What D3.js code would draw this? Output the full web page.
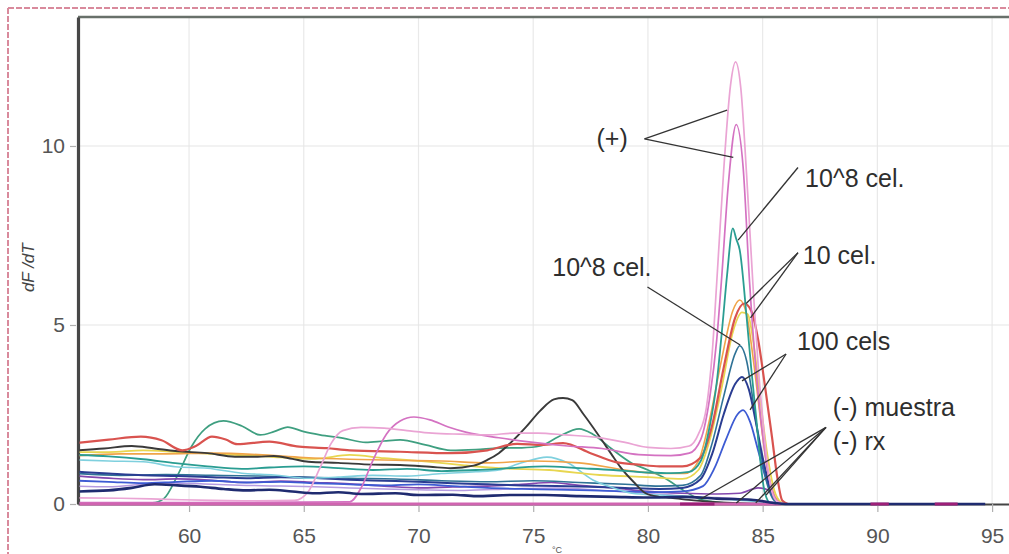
<!DOCTYPE html>
<html>
<head>
<meta charset="utf-8">
<script src="https://cdn.jsdelivr.net/npm/d3@7"></script>
<style>
  html, body { margin: 0; padding: 0; background: #fff; }
  svg { display: block; font-family: "Liberation Sans", Arial, sans-serif; }
</style>
</head>
<body>
<svg id="chart" width="1009" height="554"></svg>
<script>
// Melt curves: derivative of fluorescence (dF/dT) against temperature (°C).
// Each series is a list of [temperature, dF/dT] readings.

const xTicks = [60, 65, 70, 75, 80, 85, 90, 95];
const yTicks = [0, 5, 10];

// Positive controls (+)
const pinkTall = [[55.16,0.17],[57,0.16],[59,0.13],[61,0.1],[63,0.09],[64.6,0.1],[65.2,0.35],[65.7,1.0],[66.2,1.7],[66.7,2.05],[67.5,2.14],[68.5,2.12],[69.5,2.05],[70.6,1.98],[71.8,1.95],[73,1.93],[74.2,1.98],[75.2,1.98],[76.4,1.93],[77.8,1.86],[79,1.72],[80,1.58],[81,1.55],[81.8,1.62],[82.2,1.95],[82.55,2.7],[82.8,4.2],[83.0,6.2],[83.3,9.3],[83.6,11.7],[83.82,12.35],[84.05,11.6],[84.3,9.2],[84.57,6.2],[84.8,3.9],[85.0,2.4],[85.2,1.15],[85.4,0.35],[85.65,0.06],[86,0]];
const magentaPeak = [[55.16,0.04],[60,0.04],[64,0.05],[67,0.06],[67.5,0.45],[68,1.2],[68.6,1.95],[69.2,2.32],[69.8,2.43],[70.5,2.35],[71.3,2.15],[72.1,2.0],[73.5,1.85],[75,1.72],[76.5,1.62],[78,1.55],[79.6,1.38],[81,1.35],[81.8,1.42],[82.3,1.8],[82.7,3.0],[83.0,4.6],[83.2,6.2],[83.5,8.9],[83.85,10.6],[84.15,9.4],[84.43,6.2],[84.7,3.8],[84.95,2.2],[85.2,1.0],[85.45,0.3],[85.7,0.05],[86,0]];

// Dilution series
const tealPeak = [[55.16,1.37],[56.5,1.33],[58,1.25],[59.4,1.14],[60.8,1.05],[62.3,0.98],[63.5,1.02],[65,1.05],[66.5,1.0],[68,0.95],[69.5,0.98],[71,0.92],[72.5,0.95],[74,1.0],[75.5,1.05],[77,1.0],[78.5,0.95],[80,0.88],[81,0.86],[81.8,0.9],[82.3,1.2],[82.7,2.2],[83.0,3.4],[83.25,5.0],[83.45,6.4],[83.7,7.7],[83.85,7.4],[84.0,7.1],[84.3,5.23],[84.5,3.8],[84.72,2.4],[84.9,1.2],[85.1,0.3],[85.35,0.02],[86,0]];
const redPeak = [[55.16,1.71],[56.5,1.8],[57.9,1.88],[58.8,1.78],[59.7,1.5],[60.3,1.62],[61,1.88],[61.6,1.8],[62.1,1.67],[63.5,1.74],[64.8,1.6],[66,1.56],[67,1.5],[69.2,1.46],[71.4,1.42],[73,1.5],[74.3,1.68],[75.4,1.65],[76.3,1.7],[77.5,1.42],[78.6,1.17],[79.6,1.1],[80.5,1.05],[81.5,1.05],[82.3,1.3],[82.8,2.2],[83.3,3.8],[83.8,5.2],[84.2,5.6],[84.5,5.4],[84.8,4.6],[85.1,3.3],[85.4,1.9],[85.65,0.7],[85.85,0.1],[86.1,0]];
const orangePeak = [[55.16,1.35],[57,1.4],[59,1.4],[61,1.42],[63,1.38],[65,1.3],[67,1.25],[69,1.22],[71,1.2],[73,1.15],[75,1.2],[77,1.15],[79,0.95],[80.5,0.85],[81.6,0.85],[82.2,1.2],[82.7,2.4],[83.2,4.0],[83.7,5.4],[84.0,5.7],[84.3,5.3],[84.6,4.0],[84.9,2.4],[85.2,1.0],[85.5,0.25],[85.8,0]];
const yellowPeak = [[55.16,1.45],[56.5,1.45],[58,1.5],[59.5,1.45],[61,1.4],[62.5,1.36],[64,1.3],[65.5,1.26],[67,1.37],[68.5,1.28],[70.6,1.17],[72,1.08],[73.5,1.0],[75.7,0.95],[77.9,0.81],[80,0.75],[81.5,0.7],[82.2,0.95],[82.7,1.8],[83.2,3.2],[83.7,4.8],[84.1,5.35],[84.35,5.3],[84.6,4.5],[84.9,2.9],[85.2,1.4],[85.5,0.4],[85.8,0.05],[86,0]];
const darkTealPeak = [[55.16,0.85],[57,0.8],[59,0.82],[61,0.8],[63,0.78],[65,0.75],[67,0.72],[69,0.7],[71,0.65],[73,0.62],[75,0.65],[77,0.6],[79,0.55],[80.5,0.5],[81.5,0.52],[82.3,0.8],[82.8,1.7],[83.3,3.0],[83.8,4.2],[84.0,4.42],[84.3,4.0],[84.6,2.8],[84.9,1.5],[85.2,0.55],[85.5,0.1],[85.8,0]];
const navyPeak = [[55.16,0.9],[56.5,0.85],[58,0.8],[59.5,0.78],[61,0.75],[62.5,0.72],[64,0.75],[65.7,0.72],[67,0.68],[68.5,0.65],[70,0.62],[71.5,0.58],[73,0.55],[74.5,0.52],[76,0.5],[77.5,0.48],[79,0.45],[80.5,0.42],[81.5,0.45],[82.3,0.7],[82.8,1.4],[83.3,2.5],[83.8,3.35],[84.1,3.55],[84.4,3.2],[84.7,2.3],[85.0,1.3],[85.3,0.5],[85.6,0.1],[86,0]];
const bluePeak = [[55.16,0.65],[56.5,0.62],[58,0.58],[59.5,0.62],[61,0.65],[62.5,0.6],[64,0.62],[65.5,0.58],[67,0.55],[68.5,0.52],[70,0.55],[71.5,0.5],[73,0.45],[74.5,0.42],[76,0.4],[77.5,0.38],[79,0.35],[80.5,0.33],[81.5,0.35],[82.4,0.5],[82.9,1.0],[83.4,1.8],[83.9,2.5],[84.15,2.62],[84.45,2.3],[84.8,1.5],[85.1,0.8],[85.4,0.3],[85.7,0.05],[86,0]];

// Samples with low-temperature products and negatives (-)
const blackHump = [[55.16,1.5],[56.3,1.55],[57.5,1.62],[58.5,1.55],[59.4,1.48],[60.8,1.42],[62,1.32],[63,1.32],[63.7,1.34],[64.5,1.26],[65.2,1.18],[66.5,1.15],[68,1.1],[69.2,1.09],[70.5,1.04],[71.4,1.0],[72.4,1.07],[73,1.23],[73.5,1.42],[74.0,1.7],[74.7,2.16],[75.3,2.6],[75.9,2.92],[76.3,2.96],[76.7,2.9],[77.2,2.5],[77.9,1.87],[78.4,1.4],[78.8,1.03],[79.4,0.6],[79.9,0.3],[80.5,0.2],[81.0,0.17],[82,0.1],[83,0.05],[84,0.02],[85,0]];
const greenHump = [[55.16,0.02],[57,0.02],[58.4,0.03],[58.9,0.15],[59.5,0.8],[60.1,1.6],[60.7,2.1],[61.5,2.32],[62.3,2.18],[63.1,1.93],[63.7,2.02],[64.3,2.15],[65,2.02],[65.7,1.93],[66.7,1.84],[67.7,1.72],[68.5,1.76],[69.2,1.79],[70.3,1.65],[71.4,1.5],[72.5,1.52],[73.5,1.56],[74.5,1.57],[75.3,1.62],[76.1,1.88],[77.0,2.1],[77.6,1.95],[78.4,1.55],[79.3,1.14],[80,0.95],[80.8,0.7],[81.5,0.4],[82.2,0.15],[83,0.05],[84,0]];
const cyanHump = [[55.16,1.23],[56.5,1.2],[58,1.18],[59.4,1.04],[60.8,1.0],[62.3,0.86],[63.7,0.81],[65.2,0.72],[66.5,0.75],[68,0.8],[69.5,0.78],[71,0.85],[72.5,0.9],[73.5,0.95],[74.5,1.15],[75.6,1.31],[76.5,1.15],[77.6,0.67],[78.5,0.45],[79.3,0.3],[80.5,0.25],[81.5,0.22],[83,0.15],[84.5,0.08],[85.5,0]];
const purpleLow = [[55.16,0.78],[56.5,0.72],[58,0.68],[59.5,0.7],[61,0.66],[62.5,0.6],[64,0.64],[65.5,0.6],[67,0.56],[68.5,0.5],[70,0.45],[71.5,0.48],[73,0.5],[74.5,0.55],[75.8,0.6],[77,0.52],[78.5,0.45],[80,0.35],[81.5,0.3],[83,0.28],[84,0.3],[84.8,0.45],[85.2,0.4],[85.6,0.1],[86,0]];
const lavenderLow = [[55.16,0.5],[56.5,0.48],[58,0.55],[59.5,0.58],[61,0.55],[62.5,0.52],[64,0.5],[65.5,0.48],[67,0.45],[68.5,0.42],[70,0.4],[72,0.38],[74,0.42],[76,0.45],[78,0.38],[80,0.3],[82,0.2],[84,0.15],[85.5,0.05],[86,0]];
const magentaBase = [[55.16,0],[65,0],[75,0],[85.8,0]];
const navyBase = [[55.16,0.35],[56.5,0.38],[57.5,0.45],[58.5,0.55],[59.5,0.52],[60.5,0.48],[61.5,0.42],[62.5,0.38],[63.5,0.4],[64.5,0.35],[65.5,0.3],[66.5,0.33],[67.5,0.28],[69,0.3],[70,0.25],[71.5,0.26],[72.5,0.22],[74,0.25],[75.5,0.25],[77,0.22],[78.5,0.2],[80,0.18],[81.5,0.2],[83,0.15],[84.5,0.12],[85.5,0.03],[86,0],[94.7,0]];
const magentaMarks = [[81.4,0],[82.9,0],[83.0,null],[89.7,0],[90.5,0],[90.6,null],[92.5,0],[93.5,0]];

// Drawing order and line styles
const seriesOrder = [
  ["greenHump", greenHump], ["lavenderLow", lavenderLow], ["purpleLow", purpleLow],
  ["bluePeak", bluePeak], ["darkTealPeak", darkTealPeak], ["navyPeak", navyPeak],
  ["cyanHump", cyanHump], ["yellowPeak", yellowPeak], ["orangePeak", orangePeak],
  ["blackHump", blackHump], ["redPeak", redPeak], ["tealPeak", tealPeak],
  ["magentaPeak", magentaPeak], ["pinkTall", pinkTall], ["magentaBase", magentaBase],
  ["navyBase", navyBase], ["magentaMarks", magentaMarks]
];
const lineStyle = {
  greenHump:    { color: "#3f9f80", width: 1.7 },
  lavenderLow:  { color: "#b59be0", width: 1.5 },
  purpleLow:    { color: "#8447ae", width: 1.7 },
  bluePeak:     { color: "#3d5bd3", width: 1.8 },
  darkTealPeak: { color: "#2f7296", width: 1.6 },
  navyPeak:     { color: "#2a3d92", width: 2.0 },
  cyanHump:     { color: "#7fd0de", width: 1.6 },
  yellowPeak:   { color: "#e8d650", width: 1.8 },
  orangePeak:   { color: "#f0a448", width: 1.6 },
  blackHump:    { color: "#3a3a3a", width: 1.9 },
  redPeak:      { color: "#d9534f", width: 2.2 },
  tealPeak:     { color: "#2a9d92", width: 1.8 },
  magentaPeak:  { color: "#d472c2", width: 1.7 },
  pinkTall:     { color: "#eaa4d4", width: 1.7 },
  magentaBase:  { color: "#d064b0", width: 3.0 },
  navyBase:     { color: "#1f2b70", width: 2.6 },
  magentaMarks: { color: "#9e1f78", width: 3.2 }
};

// Leader annotations, anchored in data coordinates
const annotations = [
  { text: "(+)",        at: [78.44, 10.22], anchor: "middle", from: [79.85, 10.2], to: [[83.45, 11.0], [83.72, 9.68]] },
  { text: "10^8 cel.",  at: [86.85, 9.1],   anchor: "start",  from: [86.54, 9.4],  to: [[83.93, 7.37]] },
  { text: "10 cel.",    at: [86.75, 6.95],  anchor: "start",  from: [86.54, 7.02], to: [[84.28, 5.6], [84.47, 5.2]] },
  { text: "10^8 cel.",  at: [75.83, 6.6],   anchor: "start",  from: [79.98, 6.06], to: [[84.02, 4.44]] },
  { text: "100 cels",   at: [86.5, 4.55],   anchor: "start",  from: [86.02, 4.19], to: [[84.1, 3.44], [84.45, 2.63]] },
  { text: "(-) muestra",at: [88.05, 2.7],   anchor: "start",  from: null,          to: [] },
  { text: "(-) rx",     at: [88.05, 1.76],  anchor: "start",  from: [87.76, 2.14], to: [[82.3, 0.14], [83.85, 0.03], [84.7, 0.03], [85.15, 0.25]] }
];

const svg = d3.select("#chart");
const W = 1009, H = 554;

const x = d3.scaleLinear().domain([55.16, 95.75]).range([78, 1009.3]);
const y = d3.scaleLinear().domain([0, 13.6]).range([504, 17.1]);

// Outer dashed frame
svg.append("line").attr("x1", 8).attr("x2", W).attr("y1", 8).attr("y2", 8)
  .attr("stroke", "#d98a9c").attr("stroke-width", 2).attr("stroke-dasharray", "6,2");
svg.append("line").attr("x1", 8).attr("x2", 8).attr("y1", 8).attr("y2", H)
  .attr("stroke", "#d98a9c").attr("stroke-width", 2).attr("stroke-dasharray", "6,2");

// Grid
const grid = svg.append("g");
grid.selectAll("line.v").data(xTicks).join("line")
  .attr("x1", d => x(d)).attr("x2", d => x(d))
  .attr("y1", y(13.6)).attr("y2", y(0))
  .attr("stroke", "#e9e9e9").attr("stroke-width", 1.2);
grid.selectAll("line.h").data(yTicks.filter(d => d > 0)).join("line")
  .attr("x1", x(55.16)).attr("x2", W)
  .attr("y1", d => y(d)).attr("y2", d => y(d))
  .attr("stroke", "#e6e6e6").attr("stroke-width", 1.2);

// Top frame line
svg.append("line").attr("x1", 78).attr("x2", W).attr("y1", y(13.6)).attr("y2", y(13.6))
  .attr("stroke", "#68706a").attr("stroke-width", 2.5);

// Axes
const yAxis = svg.append("g").attr("transform", `translate(${x(55.16)},0)`)
  .call(d3.axisLeft(y).tickValues(yTicks).tickSize(6).tickSizeOuter(0).tickPadding(7).tickFormat(d3.format("d")));
yAxis.select(".domain").attr("stroke", "#474747").attr("stroke-width", 3.2);
yAxis.selectAll(".tick line").attr("stroke", "#b0b0b0").attr("stroke-width", 1.2).attr("transform", "translate(-2,0)");
yAxis.selectAll(".tick text").attr("fill", "#555").attr("font-size", 21).attr("font-family", "Liberation Sans, Arial, sans-serif");

const xAxis = svg.append("g").attr("transform", `translate(0,${y(0)})`)
  .call(d3.axisBottom(x).tickValues(xTicks).tickSize(8).tickSizeOuter(0).tickPadding(16));
xAxis.select(".domain").attr("stroke", "#444").attr("stroke-width", 2);
xAxis.selectAll(".tick line").attr("stroke", "#b0b0b0").attr("stroke-width", 1.2);
xAxis.selectAll(".tick text").attr("fill", "#555").attr("font-size", 21).attr("font-family", "Liberation Sans, Arial, sans-serif");

// Axis titles
svg.append("text").attr("transform", `translate(34,${y(6.6)}) rotate(-90)`)
  .attr("text-anchor", "middle").attr("font-size", 17).attr("font-style", "italic")
  .attr("fill", "#444").text("dF /dT");
svg.append("text").attr("x", 557).attr("y", 553)
  .attr("text-anchor", "middle").attr("font-size", 9).attr("fill", "#555").text("°C");

// Curves
svg.append("clipPath").attr("id", "plotClip").append("rect")
  .attr("x", 79.5).attr("y", 0).attr("width", W - 79.5).attr("height", H);
const line = d3.line()
  .defined(d => d[1] != null)
  .x(d => x(d[0])).y(d => y(d[1]))
  .curve(d3.curveMonotoneX);
const curves = svg.append("g").attr("clip-path", "url(#plotClip)");
seriesOrder.forEach(([name, pts]) => {
  curves.append("path").datum(pts)
    .attr("d", line)
    .attr("fill", "none")
    .attr("stroke", lineStyle[name].color)
    .attr("stroke-width", lineStyle[name].width)
    .attr("stroke-linejoin", "round")
    .attr("stroke-linecap", "butt");
});

// Annotations
const ann = svg.append("g");
annotations.forEach(a => {
  if (a.from) {
    a.to.forEach(t => {
      ann.append("line")
        .attr("x1", x(a.from[0])).attr("y1", y(a.from[1]))
        .attr("x2", x(t[0])).attr("y2", y(t[1]))
        .attr("stroke", "#333").attr("stroke-width", 1.3);
    });
  }
  ann.append("text")
    .attr("x", x(a.at[0])).attr("y", y(a.at[1]))
    .attr("dy", "0.35em")
    .attr("text-anchor", a.anchor)
    .attr("font-size", 25)
    .attr("fill", "#2e2e2e")
    .text(a.text);
});
</script>
</body>
</html>
